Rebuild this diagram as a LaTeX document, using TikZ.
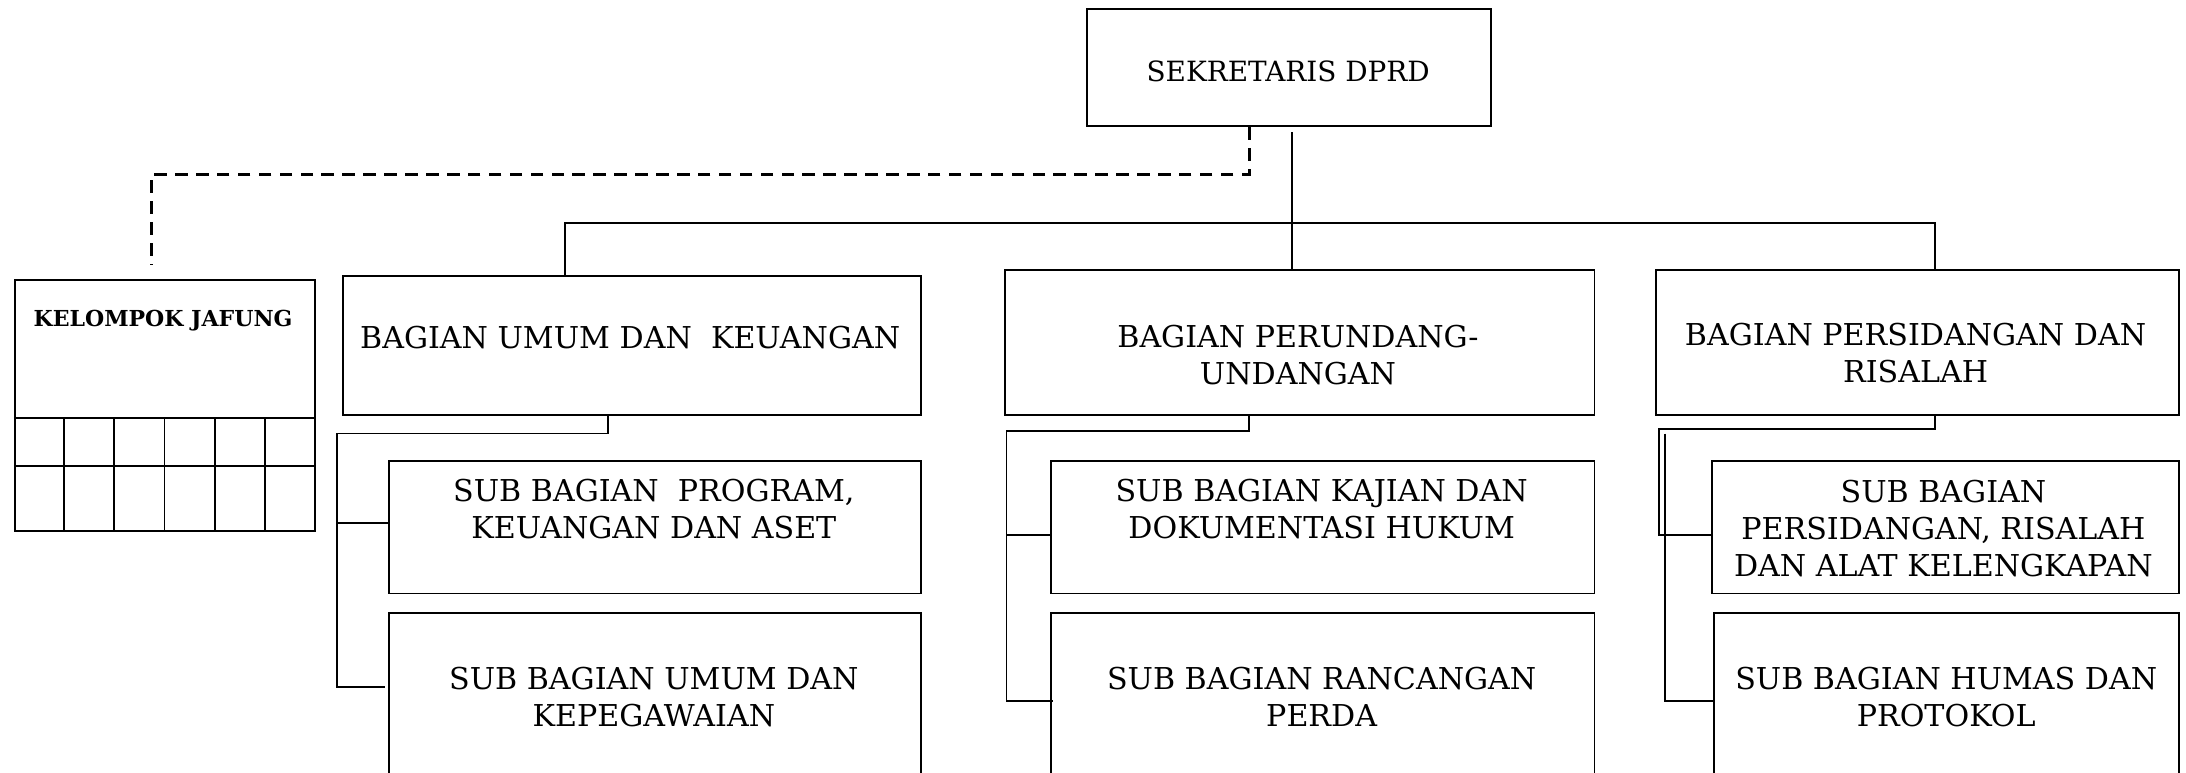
\documentclass[tikz,border=0pt]{standalone}
\usepackage{fontspec}
\setmainfont{DejaVu Serif}
\begin{document}
\begin{tikzpicture}[x=1pt,y=-1pt,
  box/.style={draw,line width=1.4pt,inner sep=0pt,anchor=north west},
  lbl/.style={align=center,inner sep=0pt,font=\fontsize{21.6}{26.5}\selectfont},
  conn/.style={line width=1.3pt},
  dashconn/.style={line width=2.2pt,dash pattern=on 9pt off 6pt}]
\useasboundingbox (0,0) rectangle (1568,554);
\clip (0,0) rectangle (1568,554);
% boxes
\node[box,minimum width=290pt,minimum height=84pt] (sek) at (779,6) {};
\node[lbl,font=\fontsize{20}{26.5}\selectfont] (sekt) at (924,51) {SEKRETARIS DPRD};
\node[box,minimum width=215pt,minimum height=180pt] (kel) at (10,200) {};
\node[inner sep=0pt,font=\fontsize{15.8}{18}\selectfont\bfseries] (kelt) at (117,230) {KELOMPOK JAFUNG};
\node[box,minimum width=415pt,minimum height=100pt] (b1) at (245,197) {};
\node[lbl] (b1t) at (452,242) {BAGIAN UMUM DAN\ \ KEUANGAN};
\node[box,minimum width=423pt,minimum height=104pt] (b2) at (720,193) {};
\node[lbl] (b2t) at (931,255) {BAGIAN PERUNDANG-\\UNDANGAN};
\node[box,minimum width=375pt,minimum height=104pt] (b3) at (1187,193) {};
\node[lbl] (b3t) at (1374,253) {BAGIAN PERSIDANGAN DAN\\RISALAH};
\node[box,minimum width=382pt,minimum height=95pt] (s11) at (278,330) {};
\node[lbl] (s11t) at (469,365) {SUB BAGIAN\ \ PROGRAM,\\KEUANGAN DAN ASET};
\node[box,minimum width=382pt,minimum height=160pt] (s12) at (278,439) {};
\node[lbl] (s12t) at (469,500) {SUB BAGIAN UMUM DAN\\KEPEGAWAIAN};
\node[box,minimum width=390pt,minimum height=95pt] (s21) at (753,330) {};
\node[lbl] (s21t) at (948,365) {SUB BAGIAN KAJIAN DAN\\DOKUMENTASI HUKUM};
\node[box,minimum width=390pt,minimum height=160pt] (s22) at (753,439) {};
\node[lbl] (s22t) at (948,500) {SUB BAGIAN RANCANGAN\\PERDA};
\node[box,minimum width=335pt,minimum height=95pt] (s31) at (1227,330) {};
\node[lbl] (s31t) at (1394,379) {SUB BAGIAN\\PERSIDANGAN, RISALAH\\DAN ALAT KELENGKAPAN};
\node[box,minimum width=333pt,minimum height=160pt] (s32) at (1229,439) {};
\node[lbl] (s32t) at (1396,500) {SUB BAGIAN HUMAS DAN\\PROTOKOL};
% kelompok grid
\draw[line width=1.4pt] (kel.west |- 0,300) -- (kel.east |- 0,300);
\draw[line width=1.4pt] (kel.west |- 0,334) -- (kel.east |- 0,334);
\foreach \xx in {46,82,118,154,190} \draw[line width=1.4pt] (\xx,300) -- (\xx,380);
% dashed connector
\coordinate (d1) at (896,125);
\coordinate (d2) at (109,125);
\coordinate (d3) at (109,190);
\draw[dashconn] (sek.south -| d1) -- (d1) -- (d2) -- (d3);
% main
\coordinate (s0) at (927,95);
\draw[conn] (s0) -- (s0 |- b2.north);
\coordinate (busL) at (405,160);
\coordinate (busR) at (1388,160);
\draw[conn] (busL |- b1.north) -- (busL) -- (busR) -- (busR |- b3.north);
% column 1
\coordinate (c1a) at (436,311);
\coordinate (c1b) at (242,311);
\draw[conn] (c1a |- b1.south) -- (c1a) -- (c1b) -- (242,493) -- (276,493);
\draw[conn] (242,375) -- (s11.west |- 0,375);
% column 2
\coordinate (c2a) at (896,309);
\coordinate (c2b) at (722,309);
\draw[conn] (c2a |- b2.south) -- (c2a) -- (c2b) -- (722,503) -- (755,503);
\draw[conn] (722,384) -- (s21.west |- 0,384);
% column 3
\coordinate (c3a) at (1388,308);
\coordinate (c3b) at (1190,308);
\draw[conn] (c3a |- b3.south) -- (c3a) -- (c3b) -- (1190,384) -- (s31.west |- 0,384);
\draw[conn] (1194,311) -- (1194,503) -- (s32.west |- 0,503);
\end{tikzpicture}
\end{document}
